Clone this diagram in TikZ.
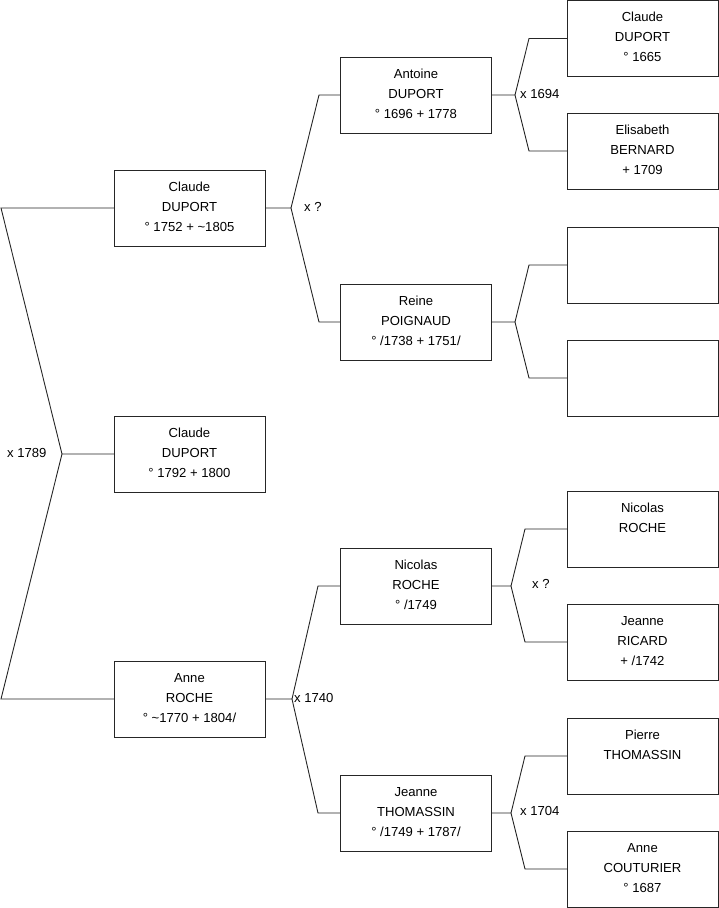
\documentclass[tikz,border=0pt]{standalone}
\usepackage{fontspec}
\setmainfont{Liberation Sans}
\begin{document}
\begin{tikzpicture}[x=1pt,y=-1pt,
  person/.style={draw=black!85, line width=0.9pt, minimum width=151pt, minimum height=76pt,
    inner sep=0pt, outer sep=0pt, align=center, font=\fontsize{13.1}{20}\selectfont},
  link/.style={draw=black!85, line width=0.9pt},
  marr/.style={anchor=west, inner sep=0pt, font=\fontsize{13.1}{15}\selectfont}]
\useasboundingbox (0,0) rectangle (719,908);
\newcommand{\pp}[3]{\rule{0pt}{13pt}#1\\\strut #2\\\rule[-7pt]{0pt}{7pt}#3}
% generation 1
\node[person] (g1a) at (189.5,208) {\pp{Claude}{DUPORT}{° 1752 + \textasciitilde1805}};
\node[person] (g1b) at (189.5,454) {\pp{Claude}{DUPORT}{° 1792 + 1800}};
\node[person] (g1c) at (189.5,699) {\pp{Anne}{ROCHE}{° \textasciitilde1770 + 1804/}};
% generation 2
\node[person] (g2a) at (416,95) {\pp{Antoine}{DUPORT}{° 1696 + 1778}};
\node[person] (g2b) at (416,322) {\pp{Reine}{POIGNAUD}{° /1738 + 1751/}};
\node[person] (g2c) at (416,586) {\pp{Nicolas}{ROCHE}{° /1749}};
\node[person] (g2d) at (416,813) {\pp{Jeanne}{THOMASSIN}{° /1749 + 1787/}};
% generation 3
\node[person] (g3a) at (642.5,38.5) {\pp{Claude}{DUPORT}{° 1665}};
\node[person] (g3b) at (642.5,151) {\pp{Elisabeth}{BERNARD}{+ 1709}};
\node[person] (g3c) at (642.5,265) {};
\node[person] (g3d) at (642.5,378) {};
\node[person] (g3e) at (642.5,529) {\pp{Nicolas}{ROCHE}{}};
\node[person] (g3f) at (642.5,642) {\pp{Jeanne}{RICARD}{+ /1742}};
\node[person] (g3g) at (642.5,756) {\pp{Pierre}{THOMASSIN}{}};
\node[person] (g3h) at (642.5,869) {\pp{Anne}{COUTURIER}{° 1687}};
% junction coordinates
\coordinate (r1) at (1,208);
\coordinate (rv) at (62,454);
\coordinate (r3) at (1,699);
\coordinate (v1) at (291,208); \coordinate (v1u) at (319,95); \coordinate (v1d) at (319,322);
\coordinate (v2) at (292,699); \coordinate (v2u) at (318,586); \coordinate (v2d) at (318,813);
\coordinate (va) at (515,95); \coordinate (vau) at (529,38.5); \coordinate (vad) at (529,151);
\coordinate (vb) at (515,322); \coordinate (vbu) at (529,265); \coordinate (vbd) at (529,378);
\coordinate (vc) at (511,586); \coordinate (vcu) at (525,529); \coordinate (vcd) at (525,642);
\coordinate (vd) at (511,813); \coordinate (vdu) at (525,756); \coordinate (vdd) at (525,869);
% connectors
\draw[link] (g1a.west) -- (r1) -- (rv) -- (g1b.west);
\draw[link] (rv) -- (r3) -- (g1c.west);
\draw[link] (g1a.east) -- (v1) -- (v1u) -- (g2a.west);
\draw[link] (v1) -- (v1d) -- (g2b.west);
\draw[link] (g1c.east) -- (v2) -- (v2u) -- (g2c.west);
\draw[link] (v2) -- (v2d) -- (g2d.west);
\draw[link] (g2a.east) -- (va) -- (vau) -- (g3a.west);
\draw[link] (va) -- (vad) -- (g3b.west);
\draw[link] (g2b.east) -- (vb) -- (vbu) -- (g3c.west);
\draw[link] (vb) -- (vbd) -- (g3d.west);
\draw[link] (g2c.east) -- (vc) -- (vcu) -- (g3e.west);
\draw[link] (vc) -- (vcd) -- (g3f.west);
\draw[link] (g2d.east) -- (vd) -- (vdu) -- (g3g.west);
\draw[link] (vd) -- (vdd) -- (g3h.west);
% marriage labels
\node[marr] (m0) at (7,453) {x 1789};
\node[marr] (m1) at (304,207) {x ?};
\node[marr] (m2) at (294,698) {x 1740};
\node[marr] (m3) at (520,94) {x 1694};
\node[marr] (m4) at (532,584) {x ?};
\node[marr] (m5) at (520,811) {x 1704};
\end{tikzpicture}
\end{document}
